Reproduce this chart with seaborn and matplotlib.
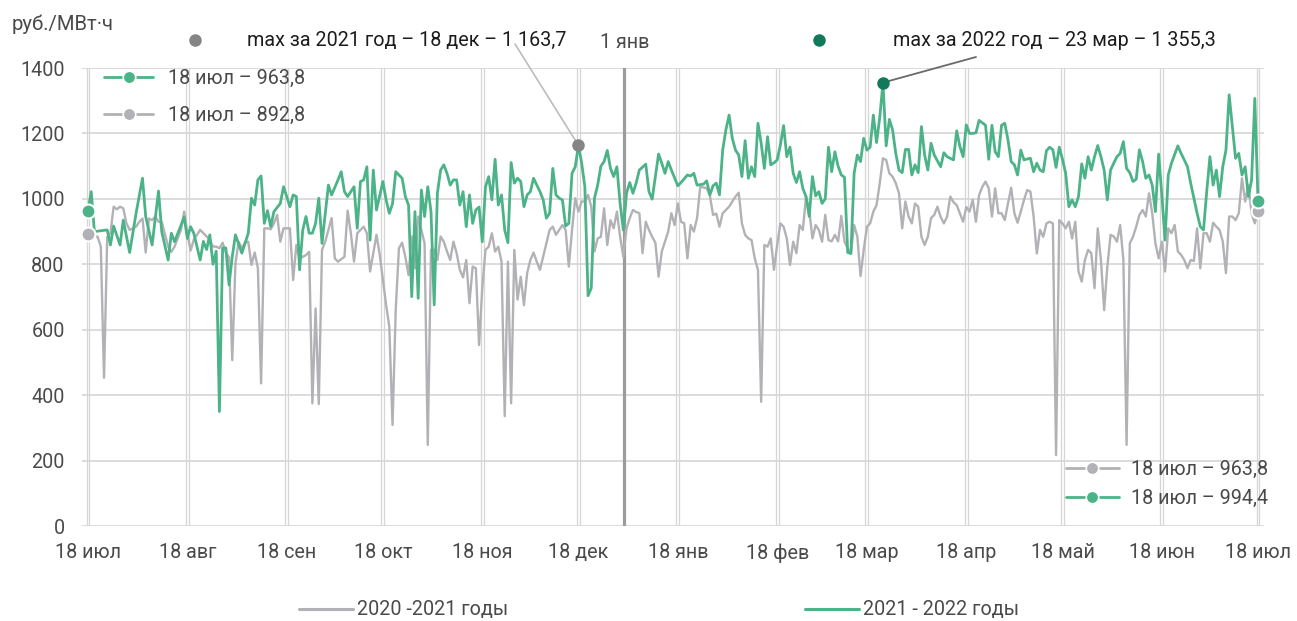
import pandas as pd
import matplotlib.pyplot as plt
import seaborn as sns
from matplotlib.lines import Line2D

# --- данные: день от 18 июл и цена, руб./МВт·ч ---
green_day = [0, 1, 2, 6, 7, 8, 10, 11, 13, 15,
             17, 18, 20, 22, 23, 25, 26, 27, 30, 31,
             32, 33, 35, 36, 37, 38, 39, 40, 41, 42,
             43, 44, 45, 46, 48, 50, 51, 52, 53, 54,
             55, 56, 57, 58, 60, 61, 63, 64, 65, 66,
             67, 68, 69, 70, 71, 72, 73, 75, 76, 78,
             79, 80, 81, 83, 84, 85, 86, 87, 88, 89,
             90, 92, 93, 94, 95, 96, 98, 99, 100, 101,
             102, 103, 104, 105, 106, 107, 108, 109, 110, 111,
             112, 113, 114, 115, 116, 117, 118, 119, 120, 121,
             122, 123, 124, 125, 126, 127, 128, 129, 130, 131,
             132, 133, 134, 135, 136, 137, 138, 139, 141, 142,
             143, 144, 145, 146, 147, 148, 149, 150, 151, 152,
             153, 154, 155, 156, 157, 158, 159, 160, 161, 162,
             163, 164, 165, 166, 167, 168, 169, 170, 171, 172,
             174, 175, 176, 177, 178, 179, 180, 181, 182, 184,
             185, 187, 188, 189, 190, 192, 193, 194, 195, 196,
             197, 198, 199, 200, 201, 202, 203, 204, 205, 206,
             207, 208, 209, 210, 211, 212, 213, 214, 215, 216,
             217, 218, 219, 220, 221, 222, 223, 224, 225, 226,
             227, 228, 229, 230, 231, 232, 233, 234, 235, 236,
             237, 238, 239, 240, 241, 242, 243, 244, 245, 246,
             247, 248, 249, 250, 251, 252, 253, 254, 255, 256,
             257, 258, 259, 260, 261, 262, 263, 264, 266, 267,
             268, 270, 271, 272, 273, 274, 275, 276, 277, 278,
             280, 281, 282, 283, 284, 285, 286, 287, 288, 289,
             290, 291, 292, 293, 294, 295, 296, 297, 298, 299,
             300, 301, 302, 303, 304, 305, 306, 307, 308, 309,
             310, 311, 312, 313, 314, 315, 316, 317, 318, 319,
             320, 321, 322, 323, 324, 325, 326, 327, 328, 329,
             330, 331, 332, 333, 334, 335, 336, 337, 338, 340,
             341, 342, 343, 344, 345, 346, 347, 348, 349, 350,
             351, 352, 353, 354, 355, 356, 357, 358, 359, 360,
             361, 362, 363, 364, 365]
green_val = [963.8, 1022, 900, 905, 859, 917, 859, 935, 836, 956,
             1063, 946, 859, 1024, 900, 813, 895, 869, 944, 879,
             915, 895, 813, 870, 845, 890, 800, 840, 350, 850,
             850, 737, 823, 890, 834, 895, 1002, 981, 1058, 1070,
             925, 964, 915, 961, 986, 1037, 976, 1012, 1007, 783,
             905, 946, 895, 895, 925, 1002, 864, 1042, 1012, 1058,
             1083, 1022, 1007, 1037, 910, 1053, 1058, 1098, 874, 1088,
             966, 1053, 997, 956, 985, 1083, 1063, 1007, 981, 701,
             961, 696, 1027, 946, 1037, 961, 676, 1017, 1088, 1104,
             1078, 1042, 1058, 1058, 981, 1022, 915, 1012, 925, 966,
             975, 869, 1037, 1068, 997, 1121, 981, 1012, 905, 866,
             1111, 1048, 1063, 1053, 976, 1012, 1022, 1063, 1022, 997,
             941, 956, 1093, 1012, 1002, 997, 917, 925, 1078, 1098,
             1163.7, 1110, 1037, 704, 727, 1002, 1042, 1100, 1114, 1148,
             1093, 1068, 1098, 986, 905, 1017, 1050, 1017, 1048, 1088,
             1106, 1022, 999, 1068, 1137, 1109, 1078, 1114, 1088, 1040,
             1050, 1073, 1070, 1078, 1042, 1045, 1055, 1012, 1040, 1048,
             1012, 1149, 1211, 1256, 1185, 1149, 1134, 1068, 1178, 1063,
             1098, 1068, 1231, 1170, 1093, 1190, 1104, 1110, 1119, 1165,
             1224, 1129, 1158, 1078, 1050, 1083, 1032, 1007, 946, 1068,
             1009, 1022, 986, 1000, 1158, 1083, 1144, 1100, 1073, 1066,
             836, 833, 1078, 1134, 1114, 1185, 1149, 1158, 1256, 1172,
             1249, 1355.3, 1162, 1243, 1211, 1139, 1088, 1080, 1151, 1151,
             1073, 1104, 1080, 1221, 1134, 1088, 1170, 1134, 1098, 1141,
             1129, 1119, 1208, 1160, 1129, 1226, 1200, 1200, 1202, 1240,
             1225, 1121, 1225, 1144, 1129, 1225, 1231, 1180, 1114, 1104,
             1073, 1149, 1119, 1122, 1124, 1083, 1109, 1088, 1083, 1147,
             1158, 1150, 1096, 1158, 1121, 1078, 976, 997, 976, 1007,
             1107, 1063, 1129, 1088, 1129, 1163, 1129, 1088, 997, 1088,
             1109, 1129, 1139, 1175, 1093, 1080, 1053, 1060, 1150, 1114,
             1063, 1073, 1042, 961, 1137, 1012, 874, 1073, 1109, 1162,
             1139, 1119, 1098, 1048, 1002, 956, 915, 905, 1022, 1129,
             1042, 1088, 1007, 1098, 1149, 1318, 1221, 1124, 1139, 1073,
             1098, 1007, 1058, 1307, 994.4]

gray_day = [0, 3, 4, 5, 6, 7, 8, 9, 10, 11,
            12, 13, 15, 16, 17, 18, 19, 20, 21, 22,
            23, 25, 26, 27, 29, 30, 31, 32, 33, 35,
            36, 38, 39, 40, 41, 42, 43, 44, 45, 46,
            47, 48, 49, 50, 51, 52, 53, 54, 55, 56,
            57, 58, 59, 60, 61, 63, 64, 65, 66, 68,
            69, 70, 71, 72, 73, 74, 76, 77, 78, 80,
            81, 82, 83, 84, 85, 86, 87, 88, 90, 91,
            93, 94, 95, 96, 97, 98, 99, 100, 101, 102,
            103, 104, 105, 106, 107, 108, 109, 110, 111, 112,
            113, 114, 115, 116, 117, 118, 119, 120, 121, 122,
            123, 124, 125, 126, 127, 128, 129, 130, 131, 132,
            133, 134, 135, 136, 137, 138, 139, 140, 141, 142,
            143, 144, 145, 146, 147, 148, 149, 150, 151, 152,
            153, 154, 155, 156, 157, 158, 159, 160, 161, 162,
            163, 164, 165, 166, 167, 168, 169, 170, 171, 172,
            173, 174, 175, 176, 177, 178, 179, 181, 182, 183,
            184, 185, 186, 187, 188, 189, 190, 191, 192, 193,
            194, 195, 196, 197, 198, 200, 201, 202, 203, 204,
            205, 206, 207, 208, 209, 210, 211, 212, 213, 214,
            215, 216, 217, 218, 219, 220, 221, 222, 223, 224,
            225, 226, 227, 228, 229, 230, 231, 232, 233, 234,
            235, 236, 237, 238, 239, 240, 241, 242, 243, 244,
            245, 246, 247, 248, 249, 250, 251, 252, 253, 254,
            255, 256, 257, 258, 259, 260, 261, 262, 263, 264,
            265, 266, 267, 268, 269, 270, 271, 273, 274, 275,
            276, 277, 278, 279, 280, 281, 282, 283, 284, 285,
            286, 287, 288, 289, 290, 291, 292, 293, 294, 295,
            296, 297, 298, 299, 300, 301, 302, 303, 304, 305,
            306, 307, 308, 309, 310, 311, 312, 313, 314, 315,
            316, 317, 318, 319, 320, 321, 322, 323, 324, 325,
            326, 327, 328, 329, 330, 331, 332, 333, 334, 335,
            336, 337, 338, 339, 340, 341, 342, 343, 344, 345,
            346, 347, 348, 349, 350, 351, 352, 353, 354, 355,
            356, 357, 358, 359, 360, 361, 362, 363, 364, 365]
gray_val = [892.8, 884, 854, 453, 884, 895, 976, 968, 976, 971,
            925, 905, 915, 930, 940, 836, 940, 935, 946, 930,
            930, 854, 838, 854, 905, 961, 895, 842, 875, 905,
            895, 875, 854, 854, 849, 866, 836, 821, 507, 803,
            869, 849, 866, 869, 798, 836, 788, 436, 910, 910,
            907, 925, 951, 869, 910, 910, 752, 859, 818, 828,
            838, 375, 665, 373, 844, 869, 941, 818, 808, 823,
            964, 895, 808, 895, 905, 915, 895, 778, 890, 830,
            676, 609, 309, 660, 849, 866, 823, 767, 885, 788,
            946, 905, 864, 248, 844, 844, 813, 885, 869, 839,
            813, 869, 834, 783, 760, 813, 681, 793, 788, 553,
            727, 844, 854, 895, 839, 854, 808, 336, 808, 375,
            844, 692, 762, 675, 773, 813, 836, 808, 783, 823,
            864, 905, 915, 890, 905, 920, 905, 793, 905, 1002,
            961, 992, 992, 1012, 976, 839, 879, 884, 971, 859,
            935, 910, 961, 884, 823, 910, 941, 966, 960, 956,
            834, 930, 905, 884, 866, 762, 839, 900, 956, 920,
            986, 930, 925, 818, 920, 900, 941, 1037, 1035, 1032,
            1010, 951, 955, 915, 956, 976, 992, 1007, 1019, 925,
            890, 879, 874, 818, 783, 380, 859, 854, 879, 783,
            859, 925, 915, 879, 798, 869, 834, 920, 905, 1007,
            966, 879, 920, 905, 869, 951, 874, 870, 890, 870,
            948, 869, 849, 833, 920, 885, 764, 844, 915, 925,
            961, 981, 1048, 1124, 1119, 1078, 1068, 1048, 1017, 910,
            992, 946, 925, 986, 976, 884, 859, 884, 941, 951,
            976, 945, 925, 945, 1007, 990, 981, 930, 975, 961,
            997, 930, 1012, 1037, 1053, 1032, 946, 1032, 956, 956,
            935, 986, 1034, 956, 927, 961, 997, 1027, 1022, 946,
            833, 905, 884, 925, 930, 925, 217, 935, 925, 910,
            930, 879, 930, 778, 747, 813, 844, 834, 727, 910,
            813, 660, 793, 890, 885, 869, 920, 813, 248, 864,
            884, 915, 951, 966, 946, 1017, 956, 864, 818, 869,
            778, 910, 895, 920, 839, 829, 813, 788, 813, 810,
            910, 788, 895, 895, 869, 927, 915, 905, 870, 773,
            946, 946, 935, 956, 1063, 992, 1042, 956, 925, 963.8]

assert len(green_day) == len(green_val)
assert len(gray_day) == len(gray_val)

months = ['июл', 'авг', 'сен', 'окт', 'ноя', 'дек', 'янв',
          'фев', 'мар', 'апр', 'май', 'июн', 'июл']
y_ticks = [0, 200, 400, 600, 800, 1000, 1200, 1400]

max21_day, max21_val = 153, 1163.7
max22_day, max22_val = 248, 1355.3

GREEN = '#4cb388'
GRAY = '#b2b2b6'
DARK_GREEN = '#127a5a'
DOT_GRAY = '#858585'
GRID = '#dcdcdc'
VGRID = '#d6d6d6'
TXT = '#4a4a4a'
FS = 14.2

sns.set_style('white')
plt.rcParams['font.family'] = ['Roboto', 'DejaVu Sans']

start = pd.Timestamp('2021-07-18')
tick_days = [((start + pd.DateOffset(months=i)) - start).days for i in range(13)]
jan1 = (pd.Timestamp('2022-01-01') - start).days

df_green = pd.DataFrame({'day': green_day, 'val': green_val})
df_gray = pd.DataFrame({'day': gray_day, 'val': gray_val})

W, H = 1297, 621
fig = plt.figure(figsize=(W / 100, H / 100), dpi=100)
ax = fig.add_axes([82 / W, 95 / H, 1182 / W, 458 / H])

# сетка
for y in y_ticks:
    ax.axhline(y, color=GRID, lw=1.4, zorder=0)
for d in tick_days:
    ax.axvline(d - 0.45, color=VGRID, lw=0.9, zorder=0)
    ax.axvline(d + 0.45, color=VGRID, lw=0.9, zorder=0)
ax.axvline(jan1 + 0.2, color='#9c9c9c', lw=2.3, zorder=1)

sns.lineplot(data=df_gray, x='day', y='val', color=GRAY, lw=1.7,
             estimator=None, ax=ax, zorder=2)
sns.lineplot(data=df_green, x='day', y='val', color=GREEN, lw=2.0,
             estimator=None, ax=ax, zorder=3)

# точки на концах
ax.plot([gray_day[0], gray_day[-1]], [gray_val[0], gray_val[-1]], 'o', ms=10,
        color=GRAY, mec='white', mew=1.5, zorder=4, clip_on=False)
ax.plot([green_day[0], green_day[-1]], [green_val[0], green_val[-1]], 'o', ms=10,
        color=GREEN, mec='white', mew=1.5, zorder=5, clip_on=False)

# максимумы
ax.plot([max21_day], [max21_val], 'o', ms=8, color=DOT_GRAY, zorder=6)
ax.plot([max22_day], [max22_val], 'o', ms=8, color=DARK_GREEN, zorder=6)
ax.annotate('', xy=(max21_day, max21_val), xytext=(515, H - 44),
            textcoords='figure pixels', annotation_clip=False,
            arrowprops=dict(arrowstyle='-', color='#bcbcbc', lw=1.2,
                            shrinkA=0, shrinkB=4))
ax.annotate('', xy=(max22_day, max22_val), xytext=(976, H - 57),
            textcoords='figure pixels', annotation_clip=False,
            arrowprops=dict(arrowstyle='-', color='#6a6a6a', lw=1.3,
                            shrinkA=0, shrinkB=4))
fig.add_artist(Line2D([195 / W], [(H - 40) / H], marker='o', ms=8,
                      color=DOT_GRAY, transform=fig.transFigure))
fig.add_artist(Line2D([819 / W], [(H - 40) / H], marker='o', ms=8,
                      color=DARK_GREEN, transform=fig.transFigure))
fig.text(247 / W, (H - 40) / H, 'max за 2021 год – 18 дек – 1 163,7',
         fontsize=FS, color='#1c1c1c', va='center', ha='left')
fig.text(893 / W, (H - 40) / H, 'max за 2022 год – 23 мар – 1 355,3',
         fontsize=FS, color='#1c1c1c', va='center', ha='left')
fig.text(625 / W, (H - 42) / H, '1 янв', fontsize=FS, color=TXT,
         va='center', ha='center')
fig.text(12 / W, (H - 24) / H, 'руб./МВт·ч', fontsize=14.6, color=TXT,
         va='center', ha='left')

# оси
ax.set_xlim(-1.87, 366.87)
ax.set_ylim(0, 1400)
ax.set_xticks(tick_days)
ax.set_xticklabels(['18 ' + m for m in months])
ax.set_yticks(y_ticks)
ax.set_yticklabels([str(v) for v in y_ticks])
ax.tick_params(axis='x', length=4.5, width=1.2, color=VGRID, pad=8,
               labelsize=FS, labelcolor=TXT)
ax.tick_params(axis='y', length=4.5, width=1.2, color=VGRID, pad=8,
               labelsize=FS, labelcolor=TXT)
ax.set_xlabel('')
ax.set_ylabel('')
for s in ax.spines.values():
    s.set_visible(False)

# подписи значений на концах
def end_handle(c):
    return Line2D([], [], color=c, lw=2, marker='o', ms=9, mec='white', mew=1.2)

leg1 = ax.legend([end_handle(GREEN), end_handle(GRAY)],
                 ['18 июл – 963,8', '18 июл – 892,8'],
                 loc='upper left', bbox_to_anchor=(104 / W, (H - 69) / H),
                 bbox_transform=fig.transFigure, frameon=False, fontsize=FS,
                 handlelength=2.5, handletextpad=0.75, labelspacing=0.9,
                 borderpad=0, borderaxespad=0, labelcolor=TXT)
ax.add_artist(leg1)
ax.legend([end_handle(GRAY), end_handle(GREEN)],
          ['18 июл – 963,8', '18 июл – 994,4'],
          loc='lower right', bbox_to_anchor=(1268 / W, (H - 508) / H),
          bbox_transform=fig.transFigure, frameon=False, fontsize=FS,
          handlelength=2.7, handletextpad=0.6, labelspacing=0.5,
          borderpad=0, borderaxespad=0, labelcolor=TXT)

fig.legend([Line2D([], [], color=GRAY, lw=2.2), Line2D([], [], color=GREEN, lw=2.2)],
           ['2020 -2021 годы', '2021 - 2022 годы'],
           loc='center', bbox_to_anchor=(659 / W, (H - 610) / H), ncol=2,
           frameon=False, fontsize=FS, handlelength=2.7, handletextpad=0.2,
           columnspacing=15.1, labelcolor=TXT)

fig.savefig('out.png', dpi=100)
